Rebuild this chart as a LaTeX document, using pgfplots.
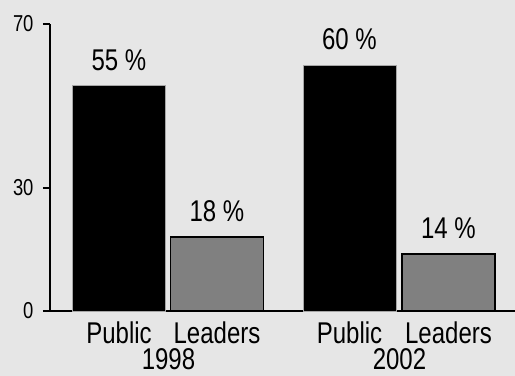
\documentclass[border=0pt]{standalone}
\usepackage{fontspec}
\setmainfont{Liberation Sans}[FakeStretch=0.8]
\usepackage{pgfplots}
\pgfplotsset{compat=1.18}
\definecolor{bg}{RGB}{230,230,230}
\definecolor{barg}{RGB}{128,128,128}
\begin{document}
\begin{tikzpicture}
\fill[bg,use as bounding box] (-50bp,-65bp) rectangle (465bp,311bp);
\begin{axis}[
 width=465bp, height=287bp, scale only axis,
 xmin=50, xmax=515, ymin=0, ymax=70,
 axis x line=bottom, axis y line=left,
 axis line style={line width=2bp,-},
 ytick={0,30,70},
 yticklabels={0,30,70},
 tick align=outside,
 major tick length=7bp,
 ytick style={line width=2bp,black},
 xtick={119,217,349.5,448.5},
 xticklabels={Public,Leaders,Public,Leaders},
 xtick style={draw=none},
 extra x ticks={168.5,399.5},
 extra x tick labels={1998,2002},
 extra x tick style={tick label style={yshift=-34bp}, major tick length=0pt},
 tick label style={font=\fontsize{30bp}{32bp}\selectfont},
 yticklabel style={font=\fontsize{23bp}{24bp}\selectfont, anchor=east, xshift=-6bp, text=black},
 /pgf/number format/assume math mode=true,
 ybar, bar shift=0pt, bar width=93,
 nodes near coords={\pgfmathprintnumber{\pgfplotspointmeta}\ \%},
 every node near coord/.append style={font=\fontsize{30bp}{32bp}\selectfont, black, yshift=11bp},
 clip=false,
]
\addplot[fill=black, draw=gray!70, line width=0.8bp] coordinates {(119,55) (349.5,60)};
\addplot[fill=barg, draw=black, line width=1.8bp] coordinates {(217,18) (448.5,14)};
\end{axis}
\end{tikzpicture}
\end{document}
